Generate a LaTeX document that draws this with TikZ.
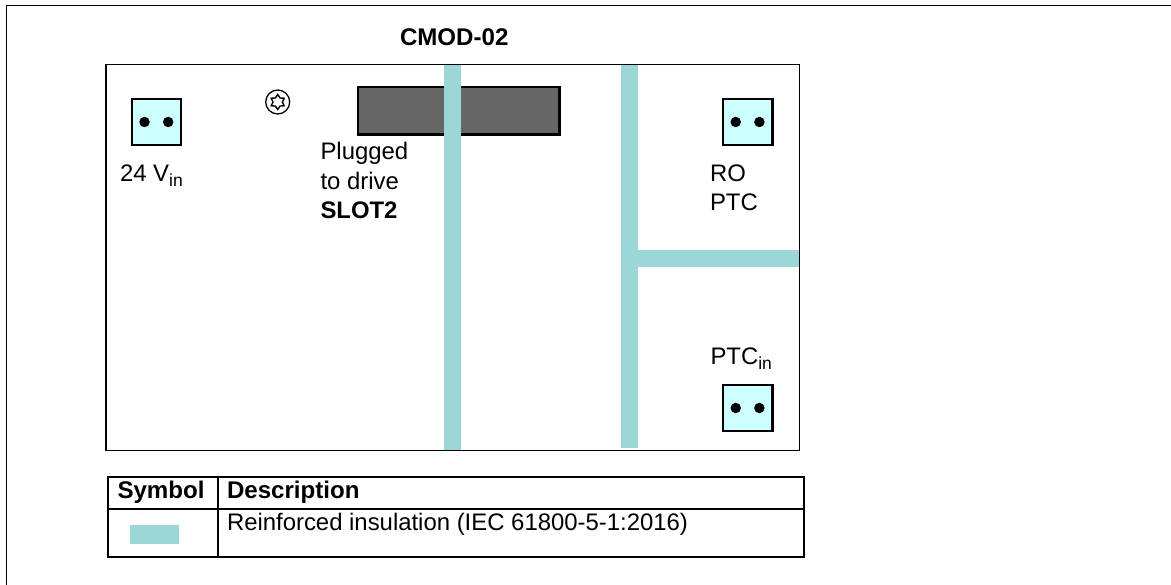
\documentclass[tikz,border=0pt]{standalone}
\usepackage{fontspec}
\setmainfont{Liberation Sans}
\usetikzlibrary{positioning,shapes.geometric}
\definecolor{InsulTeal}{HTML}{9BD7D7}
\definecolor{TermFill}{HTML}{CCFFFF}
\definecolor{SlotGrey}{HTML}{666666}
\newcommand{\lowtext}[1]{\raisebox{-5pt}{\fontsize{17.5}{17.5}\selectfont #1}}
\tikzset{every node/.style={font=\fontsize{23.9}{29.5}\selectfont,inner sep=0pt,outer sep=0pt,text=black},
 lab/.style={anchor=base west},
 boldlab/.style={anchor=base west,font=\fontsize{24.1}{29.5}\selectfont\bfseries},
 multilab/.style={anchor=north west,align=left},
 terminal/.style={draw=black,line width=2.2pt,fill=TermFill,minimum width=49.5pt,minimum height=46.7pt},
 pin/.style={circle,fill=black,minimum size=10.5pt},
 insul/.style={fill=InsulTeal,draw=none},
 rule/.style={draw=black,line width=1.8pt}}
\begin{document}
\begin{tikzpicture}[x=1pt,y=-1pt]
\useasboundingbox (0,0) rectangle (1171,585);
\draw[line width=1.4pt] (6.3,585)--(6.3,5.5)--(1170.5,5.5);
\node[boldlab] (title) at (400,45.5){CMOD-02};
\node[draw=black,line width=1.1pt,fill=white,anchor=north west,minimum width=693.5pt,minimum height=386pt] (board) at (106,64.5){};
\node[draw=black,line width=2.4pt,fill=SlotGrey,anchor=north west,minimum width=201.3pt,minimum height=47.5pt] (slot) at (358.1,87.1){};
\fill[insul] (444,65) rectangle (461,450);
\fill[insul] (621,65) rectangle (638,448);
\fill[insul] (638,250) rectangle (799,267);
% terminals
\foreach \name/\cx/\cy in {vin/156.5/122,ro/747.7/122,ptc/747.7/408}
 {\node[terminal] (\name) at (\cx,\cy){};
  \node[pin] (\name a) at (\cx-12,\cy){};
  \node[pin] (\name b) at (\cx+11.7,\cy){};}
\node[circle,draw=black,line width=1.3pt,minimum size=24pt] (screw) at (277.7,102){};
\node[star,star points=6,star point ratio=1.6,draw=black,line width=1.4pt,minimum size=15pt] (torx) at (screw){};
\node[lab] (vinlab) at (120,181.5){24 V\lowtext{in}};
\node[multilab] (slotlab) at (320.5,142.5){Plugged\\to drive\\\textbf{SLOT2}};
\node[multilab] (rolab) at (710,164.5){RO\\PTC};
\node[lab] (ptclab) at (710.5,365){PTC\lowtext{in}};
% legend
\draw[rule] (108,476.8) rectangle (803.7,556.7);
\draw[rule] (108,508.7)--(803.7,508.7);
\draw[rule] (218,476.8)--(218,556.7);
\node[boldlab] (symhead) at (117.5,498){Symbol};
\node[boldlab] (deschead) at (227,498){Description};
\fill[insul] (130,525) rectangle (179,544);
\node[lab] (desc) at (227,530){Reinforced insulation (IEC 61800-5-1:2016)};
\end{tikzpicture}
\end{document}
